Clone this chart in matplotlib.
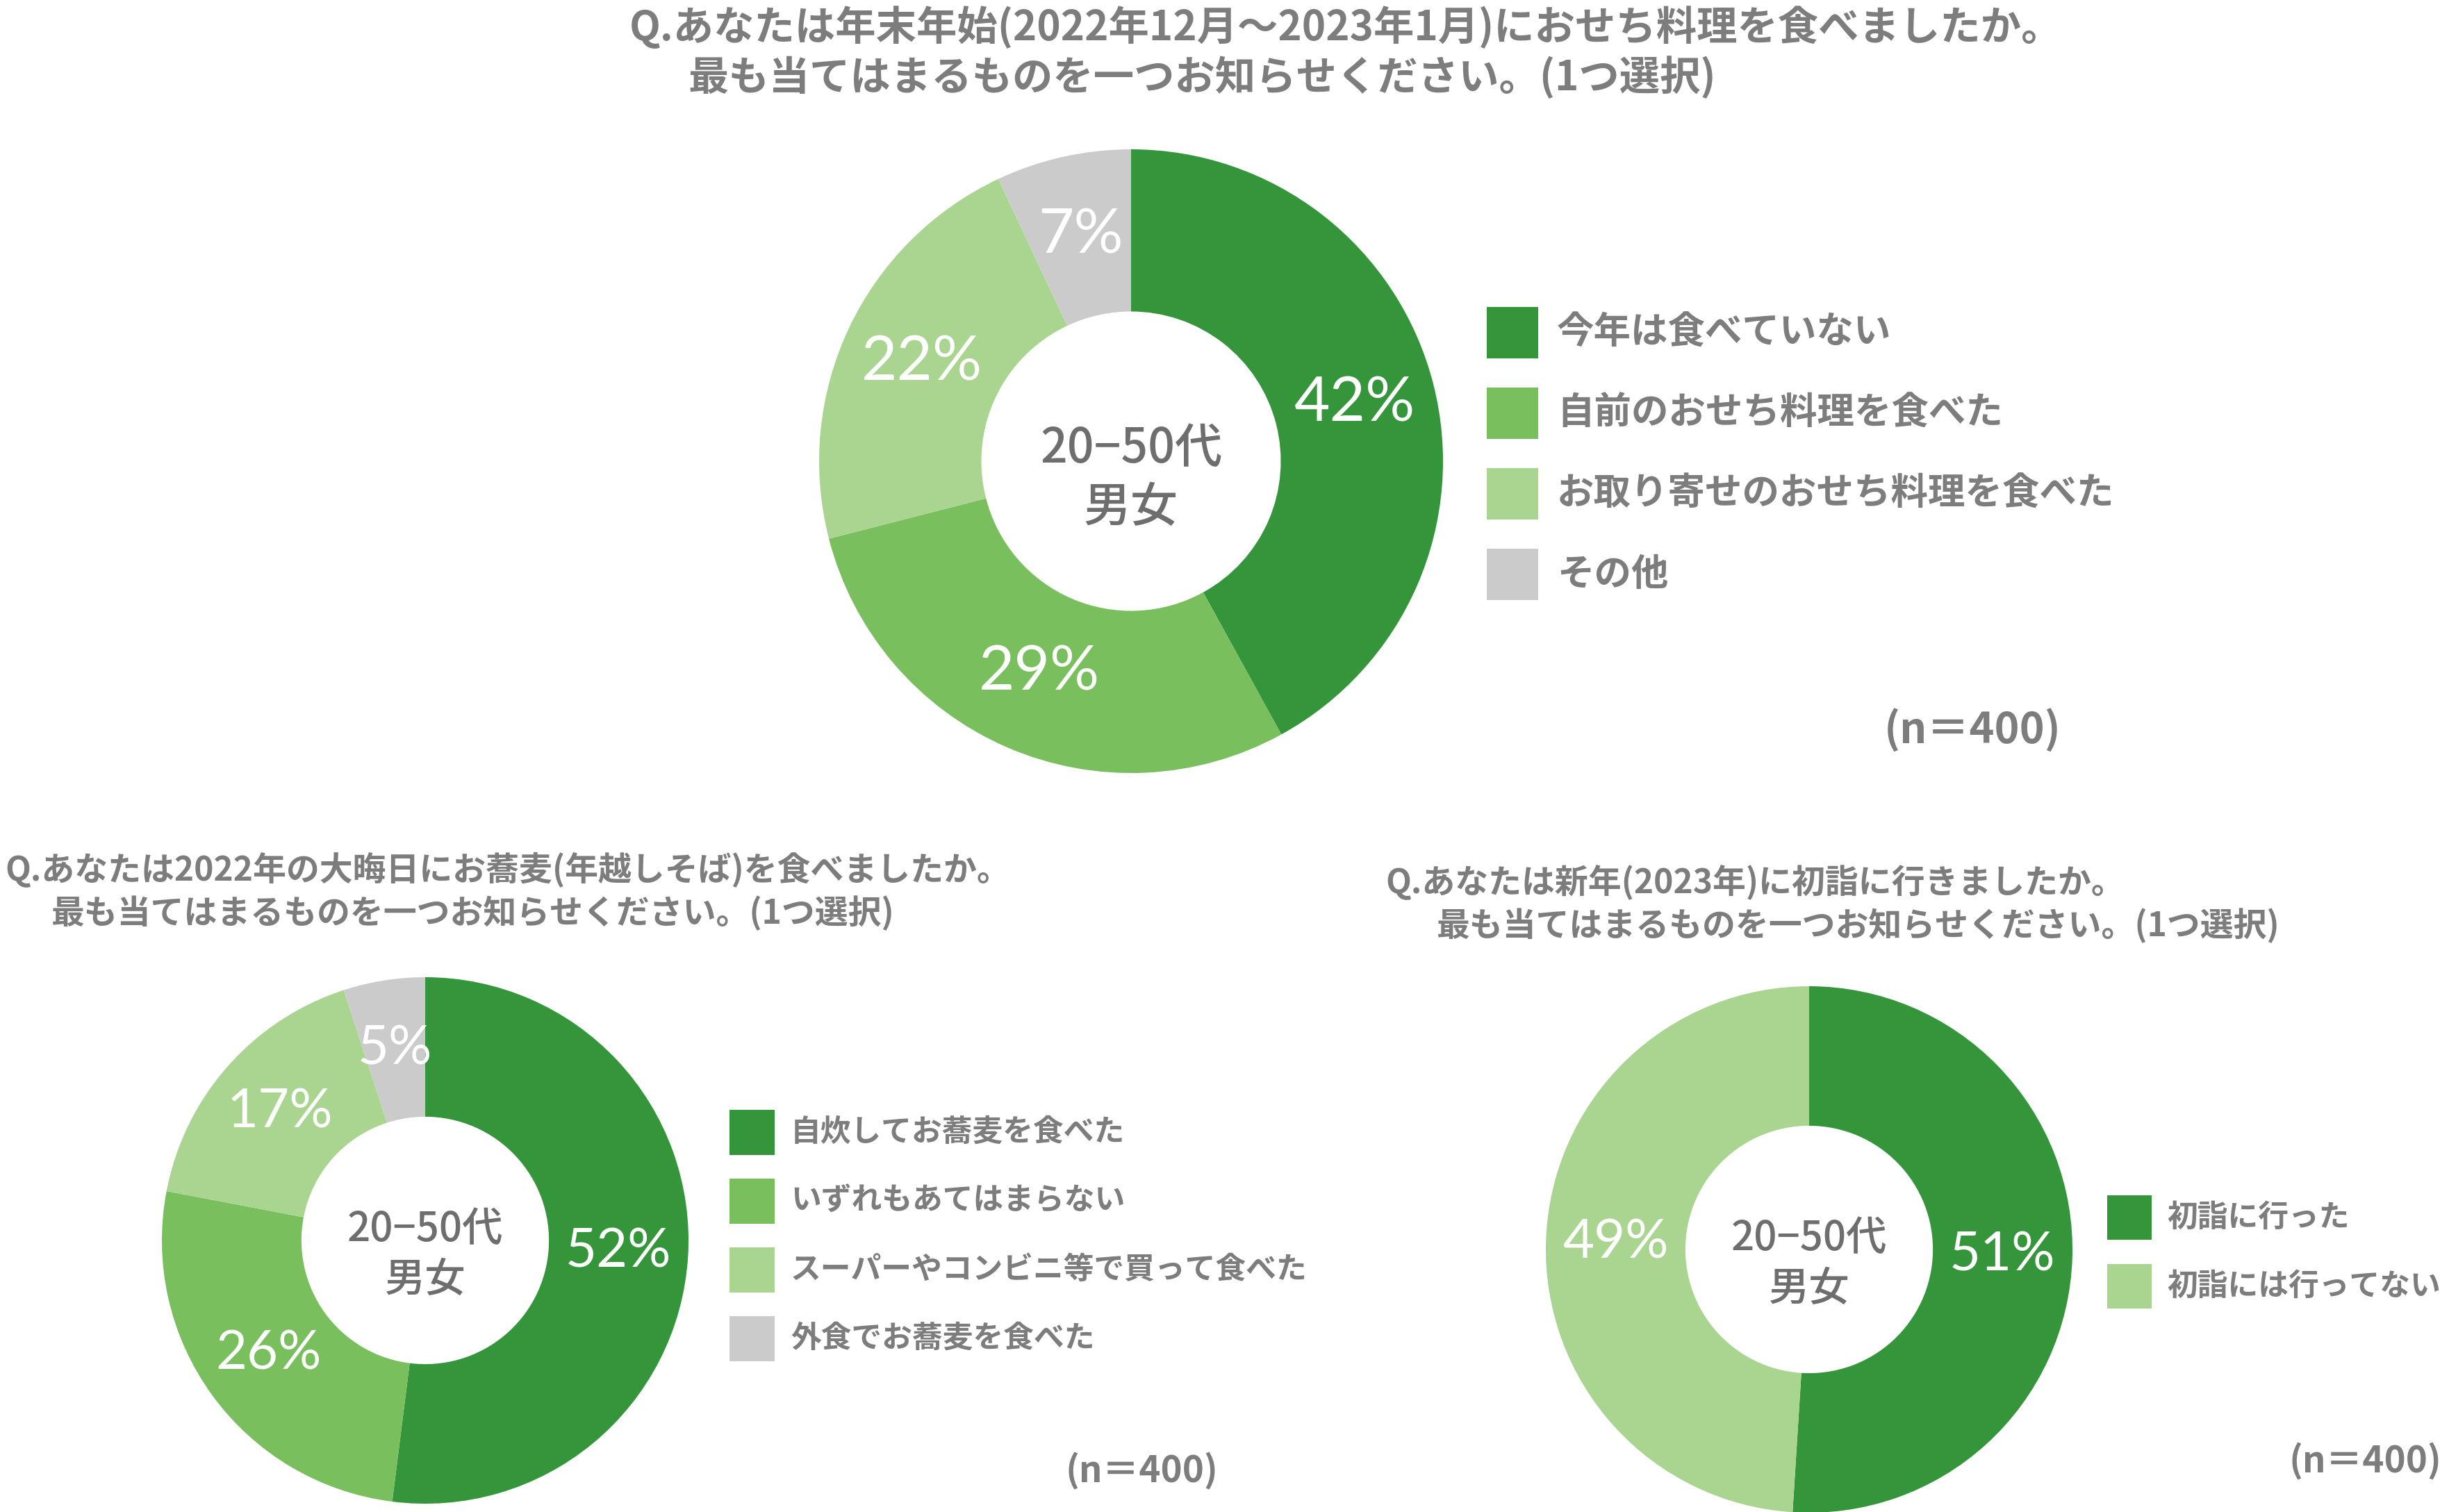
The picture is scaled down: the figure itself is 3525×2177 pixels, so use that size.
import numpy as np
import matplotlib.pyplot as plt
from matplotlib.patches import Rectangle

plt.rcParams['font.family'] = ['Noto Sans CJK JP', 'DejaVu Sans']

W, H = 3525, 2177

# おせち料理
osechi_labels = ['今年は食べていない', '自前のおせち料理を食べた', 'お取り寄せのおせち料理を食べた', 'その他']
osechi_values = [42, 29, 22, 7]
# 年越しそば
soba_labels = ['自炊してお蕎麦を食べた', 'いずれもあてはまらない', 'スーパーやコンビニ等で買って食べた', '外食でお蕎麦を食べた']
soba_values = [52, 26, 17, 5]
# 初詣
hatsumode_labels = ['初詣に行った', '初詣には行ってない']
hatsumode_values = [51, 49]

titles = [
    ('Q.あなたは年末年始(2022年12月～2023年1月)におせち料理を食べましたか。',
     '最も当てはまるものを一つお知らせください。(1つ選択)'),
    ('Q.あなたは2022年の大晦日にお蕎麦(年越しそば)を食べましたか。',
     '最も当てはまるものを一つお知らせください。(1つ選択)'),
    ('Q.あなたは新年(2023年)に初詣に行きましたか。',
     '最も当てはまるものを一つお知らせください。(1つ選択)'),
]
center_label = ('20−50代', '男女')
n_label = '(n＝400)'

colors4 = ['#34953a', '#79bf5e', '#a9d591', '#cbcbcb']
colors2 = ['#34953a', '#a9d591']
GRAY = '#7d7d7d'
PCT_FONT = ['Lato', 'DejaVu Sans']

fig = plt.figure(figsize=(W / 100, H / 100), dpi=100)
fig.patch.set_facecolor('white')


def fx(x):
    return x / W


def fy(y):
    return 1 - y / H


def donut(cx, cy, r, values, colors, ring, pct_size, center_size):
    ax = fig.add_axes([fx(cx - r), fy(cy + r), 2 * r / W, 2 * r / H])
    wedges, _ = ax.pie(values, colors=colors, startangle=90, counterclock=False,
                       radius=1, wedgeprops=dict(width=ring, linewidth=0))
    ax.set_xlim(-1, 1)
    ax.set_ylim(-1, 1)
    mid = 1 - ring / 2
    for w, v in zip(wedges, values):
        ang = np.deg2rad((w.theta1 + w.theta2) / 2)
        ax.text(mid * np.cos(ang), mid * np.sin(ang), f'{v}%', color='white',
                fontsize=pct_size, family=PCT_FONT, ha='center', va='center')
    ax.text(0, 0.04, center_label[0], color='#6e6e6e', fontsize=center_size,
            fontweight='medium', ha='center', va='center')
    ax.text(0, -0.15, center_label[1], color='#6e6e6e', fontsize=center_size,
            fontweight='medium', ha='center', va='center')
    ax.axis('off')
    return ax


def legend(x, y0, step, size, labels, colors, fs, gap):
    for i, (lab, c) in enumerate(zip(labels, colors)):
        y = y0 + i * step
        fig.add_artist(Rectangle((fx(x), fy(y + size / 2)), size / W, size / H,
                                 transform=fig.transFigure, color=c, linewidth=0))
        fig.text(fx(x + size + gap), fy(y), lab, color=GRAY, fontsize=fs,
                 fontweight='bold', ha='left', va='center')


def title(x1, y1, x2, y2, lines, fs):
    fig.text(fx(x1), fy(y1), lines[0], color=GRAY, fontsize=fs, fontweight='bold',
             ha='left', va='center')
    fig.text(fx(x2), fy(y2), lines[1], color=GRAY, fontsize=fs, fontweight='bold',
             ha='left', va='center')


# 上段：おせち
title(906, 40, 991, 112, titles[0], 42)
donut(1628, 664, 449, osechi_values, colors4, 0.52, 64, 49)
legend(2140, 479, 116, 74, osechi_labels, colors4, 38.5, 27)
fig.text(fx(2967), fy(1052), n_label, color=GRAY, fontsize=44, fontweight='bold',
         ha='right', va='center')

# 下段左：年越しそば
title(7, 1252, 74, 1315, titles[1], 34.5)
donut(612, 1786, 379, soba_values, colors4, 0.53, 56, 42)
legend(1050, 1630, 99, 65, soba_labels, colors4, 31.5, 23)
fig.text(fx(1753), fy(2118), n_label, color=GRAY, fontsize=38, fontweight='bold',
         ha='right', va='center')

# 下段右：初詣
title(1994, 1270, 2068, 1333, titles[2], 34.5)
donut(2604, 1799, 379, hatsumode_values, colors2, 0.53, 56, 42)
legend(3033, 1753, 99, 64, hatsumode_labels, colors2, 31.5, 22)
fig.text(fx(3514), fy(2104), n_label, color=GRAY, fontsize=38, fontweight='bold',
         ha='right', va='center')

fig.savefig('out.png', dpi=100, facecolor='white')
